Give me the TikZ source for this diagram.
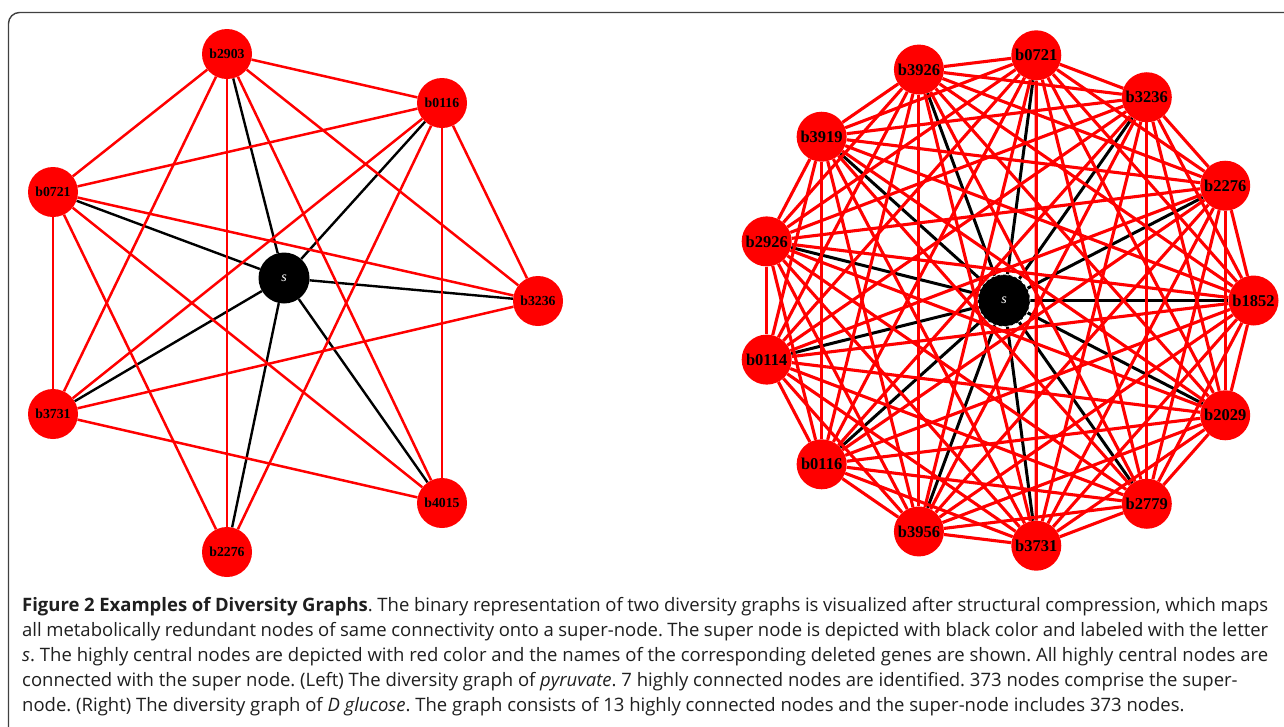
\documentclass[tikz,border=0pt]{standalone}
\usepackage{fontspec}
\setmainfont{Open Sans}
\newfontfamily\labfont{Liberation Serif}
\pgfdeclarelayer{bg}
\pgfdeclarelayer{edges}
\pgfsetlayers{bg,edges,main}
\frenchspacing

\begin{document}
\begin{tikzpicture}[x=1pt,y=-1pt,
  gene/.style={circle, fill=red, inner sep=0pt, minimum size=50pt,
    font=\labfont\bfseries\fontsize{13.8}{14}\selectfont},
  bgene/.style={gene, minimum size=50pt,
    font=\labfont\bfseries\fontsize{16.5}{17}\selectfont},
  super/.style={circle, fill=black, inner sep=0pt, minimum size=51pt, text=white,
    font=\labfont\itshape\fontsize{14}{14}\selectfont},
  bsuper/.style={super, minimum size=52pt, draw=white, dashed, line width=0.8pt},
  redge/.style={draw=red, line width=2.5pt},
  bedge/.style={draw=black, line width=2.4pt},
  rredge/.style={draw=red, line width=3.1pt},
  rbedge/.style={draw=black, line width=3pt},
  capline/.style={anchor=base west, inner sep=0pt, text=black!88,
    font=\fontsize{18.5}{21}\selectfont},
  frameline/.style={draw=black!75, line width=1.4pt, rounded corners=11pt}
]
\useasboundingbox (0,0) rectangle (1284,726);
\begin{pgfonlayer}{bg}
  \fill[white] (0,0) rectangle (1284,726);
\end{pgfonlayer}

% outer frame, open at the right and bottom edges
\begin{scope}
  \clip (0,0) rectangle (1284,726);
  \path[frameline] (8.5,12.5) rectangle (1320,760);
\end{scope}

% ---------- left graph: pyruvate ----------
\node[gene] (L1) at (227,54)  {b2903};
\node[gene] (L2) at (442,103) {b0116};
\node[gene] (L3) at (53,192)  {b0721};
\node[gene] (L4) at (538,301) {b3236};
\node[gene] (L5) at (53,414)  {b3731};
\node[gene] (L6) at (442,503) {b4015};
\node[gene] (L7) at (227,552) {b2276};
\node[super] (Ls) at (284,278) {s};

\begin{pgfonlayer}{edges}
  \foreach \t in {1,...,7} \draw[bedge] (Ls) -- (L\t);
  \foreach \a/\b in {1/2,1/3,1/4,1/5,1/6,1/7,2/3,2/4,2/5,2/6,2/7,
                     3/4,3/5,3/6,3/7,4/5,5/6}
    \draw[redge] (L\a) -- (L\b);
\end{pgfonlayer}

% ---------- right graph: D glucose ----------
\coordinate (Rc) at (1006.5,300.5);
\foreach \g [count=\k from 0] in {b1852,b2276,b3236,b0721,b3926,b3919,b2926,
                                   b0114,b0116,b3956,b3731,b2779,b2029}
  \node[bgene] (R\k) at ([shift={(-\k*360/13:247)}]Rc) {\g};
\node[bsuper] (Rs) at (1004,300.5) {s};

\begin{pgfonlayer}{edges}
  \foreach \t in {0,...,12} \draw[rbedge] (Rs) -- (R\t);
  \foreach \a in {0,...,11} {
    \pgfmathtruncatemacro{\first}{\a+1}
    \foreach \b in {\first,...,12}
      \draw[rredge] (R\a) -- (R\b);
  }
\end{pgfonlayer}

% ---------- caption ----------
\node[capline] (c1) at (22,611) {\makebox[1246pt][s]{\textbf{Figure 2 Examples of Diversity Graphs}. The binary representation of two diversity graphs is visualized after structural compression, which maps}};
\node[capline] (c2) at (22,636) {\makebox[1246pt][s]{all metabolically redundant nodes of same connectivity onto a super-node. The super node is depicted with black color and labeled with the letter}};
\node[capline] (c3) at (22,661) {\makebox[1246pt][s]{\textit{s}. The highly central nodes are depicted with red color and the names of the corresponding deleted genes are shown. All highly central nodes are}};
\node[capline] (c4) at (22,686) {connected with the super node. (Left) The diversity graph of \textit{pyruvate}. 7 highly connected nodes are identified. 373 nodes comprise the super-};
\node[capline] (c5) at (22,711) {node. (Right) The diversity graph of \textit{D glucose}. The graph consists of 13 highly connected nodes and the super-node includes 373 nodes.};
\end{tikzpicture}
\end{document}
